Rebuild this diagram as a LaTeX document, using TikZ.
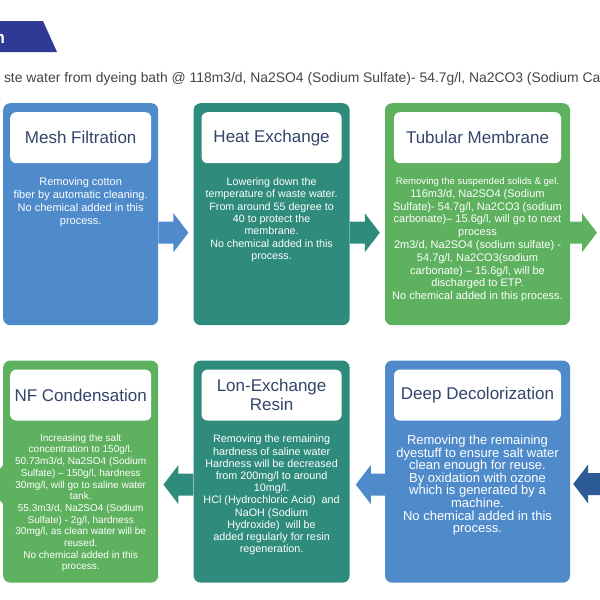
\documentclass[tikz,border=0pt]{standalone}
\usepackage{fontspec}
\setmainfont{Liberation Sans}
\usetikzlibrary{positioning,calc}

\definecolor{procblue}{HTML}{4F8BCB}
\definecolor{procteal}{HTML}{2F8C7C}
\definecolor{procgreen}{HTML}{5EB15F}
\definecolor{arrowdark}{HTML}{2C5B96}
\definecolor{bannerblue}{HTML}{2E3A93}
\definecolor{titlenavy}{HTML}{33446B}
\definecolor{introgray}{HTML}{454545}

% block arrow: colour, start, tip
\newcommand{\flowarrow}[3]{%
  \fill[#1] let \p1=(#2), \p2=(#3), \n1={15pt*sign(\x2-\x1)} in
    (\x1,\y1+11pt) -- (\x2-\n1,\y1+11pt) -- (\x2-\n1,\y1+19.5pt) -- (\x2,\y1)
    -- (\x2-\n1,\y1-19.5pt) -- (\x2-\n1,\y1-11pt) -- (\x1,\y1-11pt) -- cycle;}

\begin{document}
\begin{tikzpicture}[
    x=1pt, y=-1pt,
    procbox/.style={rectangle, rounded corners=7pt, minimum height=222pt, inner sep=0pt},
    titlebox/.style={rectangle, fill=white, rounded corners=6pt, minimum height=51pt, inner sep=0pt,
      align=center, text=titlenavy, font=\fontsize{17}{19}\selectfont},
    bodytext/.style={inner sep=0pt, align=center, text=white}
  ]
    \useasboundingbox (0,0) rectangle (600,600);
    \clip (0,0) rectangle (600,600);

    % banner and intro line
    \fill[bannerblue] (0,21) -- (43,21) -- (57,52) -- (0,52) -- cycle;
    \node[anchor=base east, text=white, font=\fontsize{17}{19}\selectfont\bfseries] (bannertxt) at (8.5,43) {n};
    \node[anchor=base west, text=introgray, font=\fontsize{13.9}{15}\selectfont] (intro) at (0.5,82)
      {ste water from dyeing bath @ 118m3/d, Na2SO4 (Sodium Sulfate)- 54.7g/l, Na2CO3 (Sodium Carbonate)};

    % top row
    \node[procbox, fill=procblue, minimum width=155pt, anchor=north west] (mesh) at (3,103) {};
    \node[procbox, fill=procteal, minimum width=156pt, right=35pt of mesh] (heat) {};
    \node[procbox, fill=procgreen, minimum width=185pt, right=35pt of heat] (tub) {};

    % bottom row
    \node[procbox, fill=procgreen, minimum width=155pt, below=35pt of mesh] (nf) {};
    \node[procbox, fill=procteal, minimum width=156pt, right=35pt of nf] (lon) {};
    \node[procbox, fill=procblue, minimum width=185pt, right=35pt of lon] (deep) {};

    % titles
    \node[titlebox, minimum width=141pt, below=9pt of mesh.north] (meshT) {Mesh Filtration};
    \node[titlebox, minimum width=140pt, below=9pt of heat.north] (heatT) {Heat Exchange};
    \node[titlebox, minimum width=167pt, below=9pt of tub.north] (tubT) {Tubular Membrane};
    \node[titlebox, minimum width=141pt, below=9pt of nf.north] (nfT) {NF Condensation};
    \node[titlebox, minimum width=140pt, below=9pt of lon.north] (lonT) {Lon-Exchange\\Resin};
    \node[titlebox, minimum width=167pt, below=9pt of deep.north] (deepT) {Deep Decolorization};

    % texts
    \node[bodytext, font=\fontsize{11}{13}\selectfont, below=14pt of meshT] (meshB)
      {Removing cotton\\fiber by automatic cleaning.\\No chemical added in this\\process.};
    \node[bodytext, font=\fontsize{10.7}{12.4}\selectfont, below=14pt of heatT] (heatB)
      {Lowering down the\\temperature of waste water.\\From around 55 degree to\\40 to protect the\\membrane.\\No chemical added in this\\process.};
    \node[bodytext, font=\fontsize{11}{12.8}\selectfont, below=14pt of tubT] (tubB)
      {{\fontsize{9.6}{12.8}\selectfont Removing the suspended solids \& gel.}\\116m3/d, Na2SO4 (Sodium\\Sulfate)- 54.7g/l, Na2CO3 (sodium\\carbonate)– 15.6g/l, will go to next\\process\\2m3/d, Na2SO4 (sodium sulfate) -\\54.7g/l, Na2CO3(sodium\\carbonate) – 15.6g/l, will be\\discharged to ETP.\\No chemical added in this process.};
    \node[bodytext, font=\fontsize{10}{11.7}\selectfont, below=13pt of nfT] (nfB)
      {Increasing the salt\\concentration to 150g/l.\\50.73m3/d, Na2SO4 (Sodium\\Sulfate) – 150g/l, hardness\\30mg/l, will go to saline water\\tank.\\55.3m3/d, Na2SO4 (Sodium\\Sulfate) - 2g/l, hardness\\30mg/l, as clean water will be\\reused.\\No chemical added in this\\process.};
    \node[bodytext, font=\fontsize{10.8}{12.2}\selectfont, below=14pt of lonT] (lonB)
      {Removing the remaining\\hardness of saline water\\Hardness will be decreased\\from 200mg/l to around\\10mg/l.\\HCl (Hydrochloric Acid)~ and\\NaOH (Sodium\\Hydroxide)~ will be\\added regularly for resin\\regeneration.};
    \node[bodytext, font=\fontsize{13}{12.6}\selectfont, below=14pt of deepT] (deepB)
      {Removing the remaining\\dyestuff to ensure salt water\\clean enough for reuse.\\By oxidation with ozone\\which is generated by a\\machine.\\No chemical added in this\\process.};

    % free ends
    \coordinate (tubout) at (597,232.5);
    \coordinate (deepin) at (605,484);
    \coordinate (nfout) at (-12,484);

    % arrows
    \flowarrow{procblue}{$(mesh.east)+(0,18.5)$}{$(heat.west)+(-5,18.5)$}
    \flowarrow{procteal}{$(heat.east)+(0,18.5)$}{$(tub.west)+(-5,18.5)$}
    \flowarrow{procgreen}{$(tub.east)+(0,18.5)$}{tubout}
    \flowarrow{arrowdark}{deepin}{$(deep.east)+(3,13)$}
    \flowarrow{procblue}{$(deep.west)+(0,13)$}{$(lon.east)+(6,13)$}
    \flowarrow{procteal}{$(lon.west)+(0,13)$}{$(nf.east)+(5,13)$}
    \flowarrow{procgreen}{$(nf.west)+(0,13)$}{nfout}
\end{tikzpicture}
\end{document}
